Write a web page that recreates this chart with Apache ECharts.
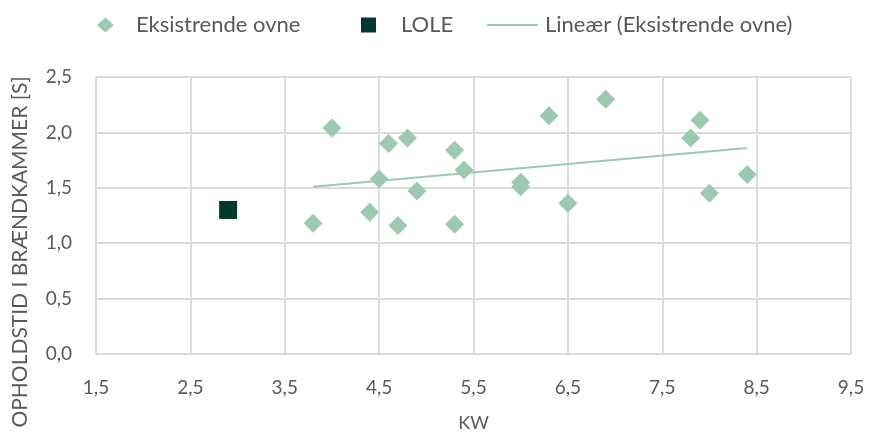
<!DOCTYPE html>
<html><head><meta charset="utf-8">
<script src="https://cdn.jsdelivr.net/npm/echarts@6/dist/echarts.min.js"></script>
<style>html,body{margin:0;padding:0;background:#fff}#c{width:869px;height:432px}</style>
</head><body><div id="c"></div>
<script>
const existingKW   = [3.8, 4.0, 4.4, 4.5, 4.6, 4.7, 4.8, 4.9, 5.3, 5.3, 5.4, 6.0, 6.0, 6.3, 6.5, 6.9, 7.8, 7.9, 8.0, 8.4];
const existingTime = [1.18, 2.04, 1.28, 1.58, 1.90, 1.16, 1.95, 1.47, 1.84, 1.17, 1.66, 1.55, 1.51, 2.15, 1.36, 2.30, 1.95, 2.11, 1.45, 1.62];
const loleKW   = [2.9];
const loleTime = [1.30];
const trendKW   = [3.8, 8.4];
const trendTime = [1.51, 1.86];
const xTicks = [1.5, 2.5, 3.5, 4.5, 5.5, 6.5, 7.5, 8.5, 9.5];
const yTicks = [0.0, 0.5, 1.0, 1.5, 2.0, 2.5];
const seriesNames = ['Eksistrende ovne', 'LOLE', 'Lineær (Eksistrende ovne)'];
const xTitle = 'KW';
const yTitle = 'OPHOLDSTID I BRÆNDKAMMER [S]';

const zip = (a, b) => a.map((v, i) => [v, b[i]]);
const fmt = v => v.toFixed(1).replace('.', ',');
const FONT = 'Lato, "Open Sans", sans-serif';
const TXT = '#595959';
const GRIDC = '#dcdcdc';
const LIGHT = '#9DC9B3';
const DARK = '#00382D';

const legendText = (pad) => ({fontFamily: FONT, fontSize: 22, color: TXT, padding: [0, 0, 0, pad]});

const chart = echarts.init(document.getElementById('c'), null, {renderer: 'canvas'});
chart.setOption({
  animation: false,
  textStyle: {fontFamily: FONT},
  grid: {left: 96, right: 18, top: 77, bottom: 78, containLabel: false, outerBoundsMode: 'none'},
  legend: [
    {data: [{name: seriesNames[0], icon: 'diamond'}], left: 97, top: 14, padding: 0, itemWidth: 17, itemHeight: 15,
     textStyle: legendText(17), selectedMode: false},
    {data: [{name: seriesNames[1], icon: 'rect'}], left: 361, top: 14, padding: 0, itemWidth: 15, itemHeight: 15,
     textStyle: legendText(20), selectedMode: false},
    {data: [{name: seriesNames[2], icon: 'path://M0,0h51v2h-51z', itemStyle: {color: LIGHT}}], left: 487, top: 14, padding: 0,
     itemWidth: 51, itemHeight: 2, textStyle: legendText(2), selectedMode: false}
  ],
  xAxis: {
    type: 'value', min: xTicks[0], max: xTicks[xTicks.length - 1], interval: xTicks[1] - xTicks[0],
    axisLine: {show: false}, axisTick: {show: false},
    splitLine: {show: true, lineStyle: {color: GRIDC, width: 2}},
    axisLabel: {formatter: fmt, fontSize: 19, color: TXT, margin: 24, fontFamily: FONT},
    name: xTitle, nameLocation: 'middle', nameGap: 60,
    nameTextStyle: {fontSize: 18, color: TXT, fontFamily: FONT}
  },
  yAxis: {
    type: 'value', min: yTicks[0], max: yTicks[yTicks.length - 1], interval: yTicks[1] - yTicks[0],
    axisLine: {show: false}, axisTick: {show: false},
    splitLine: {show: true, lineStyle: {color: GRIDC, width: 2}},
    axisLabel: {formatter: fmt, fontSize: 19, color: TXT, margin: 24, fontFamily: FONT}
  },
  graphic: [{
    type: 'text', x: 20, y: 252, rotation: Math.PI / 2,
    style: {text: yTitle, fill: TXT, font: '21px ' + FONT, align: 'center', verticalAlign: 'middle'}
  }],
  series: [
    {name: seriesNames[0], type: 'scatter', data: zip(existingKW, existingTime), symbol: 'diamond',
     symbolSize: 19, itemStyle: {color: LIGHT, opacity: 1}, z: 3},
    {name: seriesNames[1], type: 'scatter', data: zip(loleKW, loleTime), symbol: 'rect',
     symbolSize: 18, itemStyle: {color: DARK, opacity: 1}, z: 3},
    {name: seriesNames[2], type: 'line', data: zip(trendKW, trendTime), symbol: 'none', showSymbol: false,
     lineStyle: {color: LIGHT, width: 2}, itemStyle: {color: LIGHT}, z: 2}
  ]
});
</script></body></html>
